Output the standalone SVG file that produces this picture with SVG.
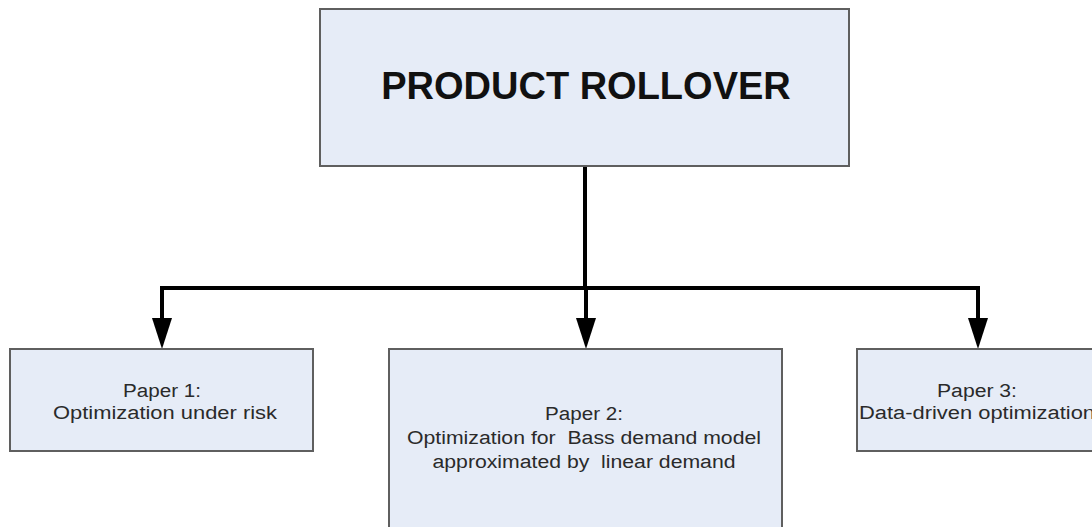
<svg xmlns="http://www.w3.org/2000/svg" width="1092" height="527" viewBox="0 0 1092 527">
<style>
.box{fill:#e6ecf7;stroke:#5f5f5f;stroke-width:2}
.t{font-family:"Liberation Sans",Arial,sans-serif;font-size:18px;fill:#2a2a2a;text-anchor:middle}
.title{font-family:"Liberation Sans",Arial,sans-serif;font-size:38px;font-weight:bold;fill:#111;text-anchor:middle}
.conn{fill:none;stroke:#000;stroke-width:4}
.head{fill:#000}
</style>
<rect width="1092" height="527" fill="#fff"/>
<g id="connectors">
<path class="conn" d="M585 166 V288"/>
<path class="conn" d="M162 318 V288 H978 V318"/>
<path class="conn" d="M586 288 V318"/>
<polygon class="head" points="152,318 172,318 162,349"/>
<polygon class="head" points="576,318 596,318 586,349"/>
<polygon class="head" points="968,318 988,318 978,349"/>
</g>
<g id="root">
<rect class="box" x="320" y="9" width="529" height="157"/>
<text class="title" x="586" y="99">PRODUCT ROLLOVER</text>
</g>
<g id="paper1">
<rect class="box" x="10" y="349" width="303" height="102"/>
<text class="t" x="162" y="397" textLength="78" lengthAdjust="spacingAndGlyphs">Paper 1:</text>
<text class="t" x="165" y="419" textLength="224" lengthAdjust="spacingAndGlyphs">Optimization under risk</text>
</g>
<g id="paper2">
<rect class="box" x="389" y="349" width="393" height="190"/>
<text class="t" x="584" y="420" textLength="78" lengthAdjust="spacingAndGlyphs">Paper 2:</text>
<text class="t" x="584" y="444" textLength="354" lengthAdjust="spacingAndGlyphs" xml:space="preserve">Optimization for  Bass demand model</text>
<text class="t" x="584" y="468" textLength="303" lengthAdjust="spacingAndGlyphs" xml:space="preserve">approximated by  linear demand</text>
</g>
<g id="paper3">
<rect class="box" x="857" y="349" width="250" height="102"/>
<text class="t" x="977" y="397" textLength="80" lengthAdjust="spacingAndGlyphs">Paper 3:</text>
<text class="t" x="977" y="419" textLength="236" lengthAdjust="spacingAndGlyphs">Data-driven optimization</text>
</g>
</svg>
